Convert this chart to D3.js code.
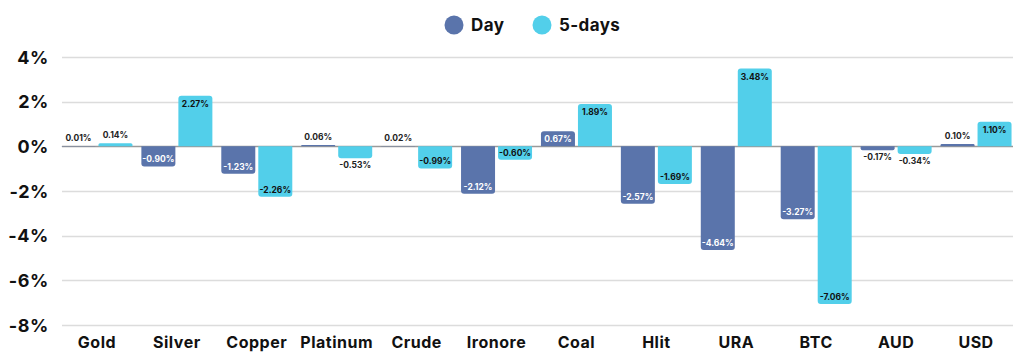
<!DOCTYPE html>
<html><head><meta charset="utf-8">
<script src="https://cdn.jsdelivr.net/npm/d3@7"></script>
<style>
html,body{margin:0;padding:0;background:#fff;}
svg{display:block;font-family:Inter,"Open Sans",sans-serif;}
</style></head>
<body><svg id="c" width="1024" height="359"></svg>
<script>
const categories = ["Gold","Silver","Copper","Platinum","Crude","Ironore","Coal","Hlit","URA","BTC","AUD","USD"];
const seriesNames = ["Day","5-days"];
const dayValues = [0.01,-0.90,-1.23,0.06,0.02,-2.12,0.67,-2.57,-4.64,-3.27,-0.17,0.10];
const fiveDayValues = [0.14,2.27,-2.26,-0.53,-0.99,-0.60,1.89,-1.69,3.48,-7.06,-0.34,1.10];
const yTicks = [4,2,0,-2,-4,-6,-8];
const colors = {"Day":"#5a74ab","5-days":"#52cfea"};

const svg = d3.select("#c");
const y = d3.scaleLinear().domain([-8,4]).range([325,57]);
const x0 = d3.scaleBand().domain(categories).range([57,1016]).padding(0);
const x1 = d3.scaleBand().domain(seriesNames).range([0,71]).paddingInner(3/37).paddingOuter(0);

// grid
const grid = svg.append("g");
yTicks.forEach(t=>{
  grid.append("line").attr("x1",62).attr("x2",1013)
    .attr("y1",Math.round(y(t))+0.5).attr("y2",Math.round(y(t))+0.5)
    .attr("stroke", t===0 ? "#9a9a9a" : "#dcdcdc").attr("stroke-width",1.5);
});
// y axis labels
const yAxis = d3.axisLeft(y).tickValues(yTicks).tickFormat(d=>d+"%").tickSize(0).tickPadding(0);
const ga = svg.append("g").attr("transform","translate(49,0)").call(yAxis);
ga.select(".domain").remove();
ga.selectAll("text").attr("font-size",18).attr("font-weight",700).attr("fill","#111")
  .attr("font-family","Inter,sans-serif").attr("letter-spacing",0.6).attr("dy","0.35em");

// x labels
const xAxis = d3.axisBottom(x0).tickSize(0).tickPadding(0);
const gx = svg.append("g").attr("transform","translate(0,342)").call(xAxis);
gx.select(".domain").remove();
gx.selectAll("text").attr("font-size",16).attr("font-weight",700).attr("fill","#111")
  .attr("font-family","Inter,sans-serif").attr("letter-spacing",0.5).attr("dy","0.35em");

const data = [];
categories.forEach((c,i)=>{
  data.push({cat:c, s:"Day", v:dayValues[i]});
  data.push({cat:c, s:"5-days", v:fiveDayValues[i]});
});
const groupOffset = (x0.bandwidth()-71)/2;

function barPath(xl, w, v){
  const y0 = y(0), y1 = y(v);
  const h = Math.abs(y1-y0);
  const r = Math.min(3, h/2, w/2);
  if (v >= 0){
    const top = y1;
    return `M${xl},${y0}V${top+r}Q${xl},${top} ${xl+r},${top}H${xl+w-r}Q${xl+w},${top} ${xl+w},${top+r}V${y0}Z`;
  } else {
    const bot = y1;
    return `M${xl},${y0}V${bot-r}Q${xl},${bot} ${xl+r},${bot}H${xl+w-r}Q${xl+w},${bot} ${xl+w},${bot-r}V${y0}Z`;
  }
}

const bars = svg.append("g");
data.forEach(d=>{
  const xl = x0(d.cat)+groupOffset+x1(d.s);
  const w = x1.bandwidth();
  bars.append("path").attr("d",barPath(xl,w,d.v)).attr("fill",colors[d.s]);
  const inside = Math.abs(d.v) >= 0.58;
  let ty, fill;
  if (inside){
    ty = d.v>=0 ? y(d.v)+8 : y(d.v)-7;
    fill = d.s==="Day" ? "#ffffff" : "#111";
  } else {
    ty = d.v>=0 ? y(d.v)-8 : y(d.v)+7;
    fill = "#222";
  }
  bars.append("text").attr("x",xl+w/2).attr("y",ty).attr("dy","0.35em")
    .attr("text-anchor","middle").attr("font-size",8.5).attr("font-weight",700)
    .attr("fill",fill).text(d3.format(".2f")(d.v).replace("\u2212","-")+"%");
});

// legend
const leg = svg.append("g");
const legendItems = [{s:"Day",cx:454,tx:471},{s:"5-days",cx:542,tx:559}];
legendItems.forEach(l=>{
  leg.append("circle").attr("cx",l.cx).attr("cy",25).attr("r",9.5).attr("fill",colors[l.s]);
  leg.append("text").attr("x",l.tx).attr("y",25).attr("dy","0.35em").attr("font-size",17)
    .attr("font-weight",700).attr("letter-spacing",0.4).attr("fill","#111").text(l.s);
});
</script></body></html>
